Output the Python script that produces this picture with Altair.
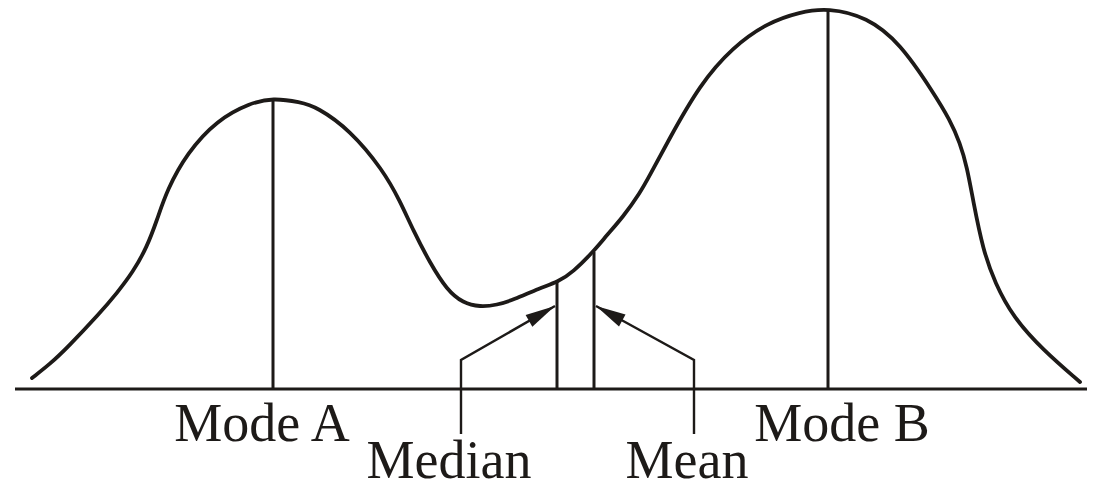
import altair as alt
import pandas as pd
import numpy as np

# Bimodal distribution curve (x in arbitrary units, y = relative frequency)
curve_x = [2.4, 4.2, 5.9, 9.2, 10.9, 12.5, 13.9, 14.9, 15.9, 17.9, 20.9, 24.2, 26.5, 29.2, 30.9,
           34.2, 37.5, 39.2, 40.5, 42.2, 43.9, 45.5, 47.2, 48.9, 50.5, 53.2, 55.0, 56.5, 58.5,
           59.9, 61.5, 63.2, 64.2, 65.9, 69.2, 72.5, 75.9, 79.2, 82.0, 85.9, 89.2, 92.5, 94.2,
           95.2, 95.9, 96.5, 97.5, 98.7, 100.5, 103.5, 107.2]
curve_y = [1.1, 2.5, 4.1, 7.6, 9.6, 11.7, 14.2, 16.9, 19.9, 23.6, 26.9, 28.6, 29.1, 28.7, 28.2,
           25.9, 21.9, 18.8, 15.9, 12.6, 9.9, 8.6, 8.2, 8.4, 8.9, 10.1, 10.7, 11.7, 13.7,
           15.4, 17.2, 19.6, 21.4, 24.6, 30.5, 34.2, 36.6, 37.7, 38.1, 37.2, 34.6, 29.7, 26.9,
           24.6, 22.2, 18.9, 13.9, 10.6, 7.2, 3.9, 0.7]

# Baseline extent
axis_start = 0.7
axis_end = 107.9

# Reference lines
marker_names = ["Mode A", "Median", "Mean", "Mode B"]
marker_x = [26.5, 54.9, 58.6, 82.0]
marker_top = [29.0, 10.7, 13.7, 38.0]

# Labels
label_text = ["Mode A", "Median", "Mean", "Mode B"]
label_x = [25.4, 44.1, 67.9, 83.4]
label_y = [-5.2, -8.9, -8.9, -5.2]

# Leader arrows for Median and Mean
leader_names = ["Median", "Mean"]
leader_foot_x = [45.3, 68.6]
leader_foot_y = [-4.5, -4.5]
leader_elbow_y = [2.9, 2.9]
leader_tip_x = [54.7, 58.8]
leader_tip_y = [8.3, 8.3]

INK = "#1d1a18"
XS = alt.Scale(domain=[0, 108.6], nice=False, zero=False)
YS = alt.Scale(domain=[-10.1, 38.1], nice=False, zero=False)


def X(f):
    return alt.X(f, type="quantitative", scale=XS, axis=None)


def Y(f):
    return alt.Y(f, type="quantitative", scale=YS, axis=None)


curve_df = pd.DataFrame({"x": curve_x, "y": curve_y, "i": range(len(curve_x))})
base_df = pd.DataFrame({"x": [axis_start], "x2": [axis_end], "y": [0.0]})
marker_df = pd.DataFrame({"name": marker_names, "x": marker_x, "y0": [0.0] * 4, "top": marker_top})
label_df = pd.DataFrame({"t": label_text, "x": label_x, "y": label_y})

rows = []
for n, fx, fy, ey, tx, ty in zip(leader_names, leader_foot_x, leader_foot_y, leader_elbow_y,
                                 leader_tip_x, leader_tip_y):
    rows += [{"name": n, "o": 0, "x": fx, "y": fy},
             {"name": n, "o": 1, "x": fx, "y": ey},
             {"name": n, "o": 2, "x": tx, "y": ty}]
leader_df = pd.DataFrame(rows)

ang = []
for fx, ey, tx, ty in zip(leader_foot_x, leader_elbow_y, leader_tip_x, leader_tip_y):
    a = np.degrees(np.arctan2(tx - fx, ty - ey))
    ang.append(float(a % 360))
arrow_df = pd.DataFrame({"x": leader_tip_x, "y": leader_tip_y, "a": ang})

baseline = alt.Chart(base_df).mark_rule(color=INK, strokeWidth=3.2).encode(
    x=X("x"), x2="x2", y=Y("y"))

markers = alt.Chart(marker_df).mark_rule(color=INK, strokeWidth=3).encode(
    x=X("x"), y=Y("y0"), y2="top")

curve = alt.Chart(curve_df).mark_line(color=INK, strokeWidth=3.8, interpolate="basis",
                                      strokeCap="round").encode(
    x=X("x"), y=Y("y"), order="i:Q")

leaders = alt.Chart(leader_df).mark_line(color=INK, strokeWidth=2.4).encode(
    x=X("x"), y=Y("y"), detail="name:N", order="o:Q")

arrows = alt.Chart(arrow_df).mark_point(shape="M0,0L0.45,2L-0.45,2Z", filled=True, color=INK,
                                        opacity=1, size=900).encode(
    x=X("x"), y=Y("y"), angle=alt.Angle("a:Q", scale=None))

labels = alt.Chart(label_df).mark_text(font="Liberation Serif", fontSize=54, color=INK,
                                       align="center", baseline="alphabetic").encode(
    x=X("x"), y=Y("y"), text="t:N")

chart = alt.layer(baseline, markers, curve, leaders, arrows, labels).properties(
    width=1086, height=482, padding=0, autosize=alt.AutoSizeParams(type="none"),
    background="white"
).configure_view(stroke=None)

chart.save("out.html", embed_options={"renderer": "svg", "actions": False})
